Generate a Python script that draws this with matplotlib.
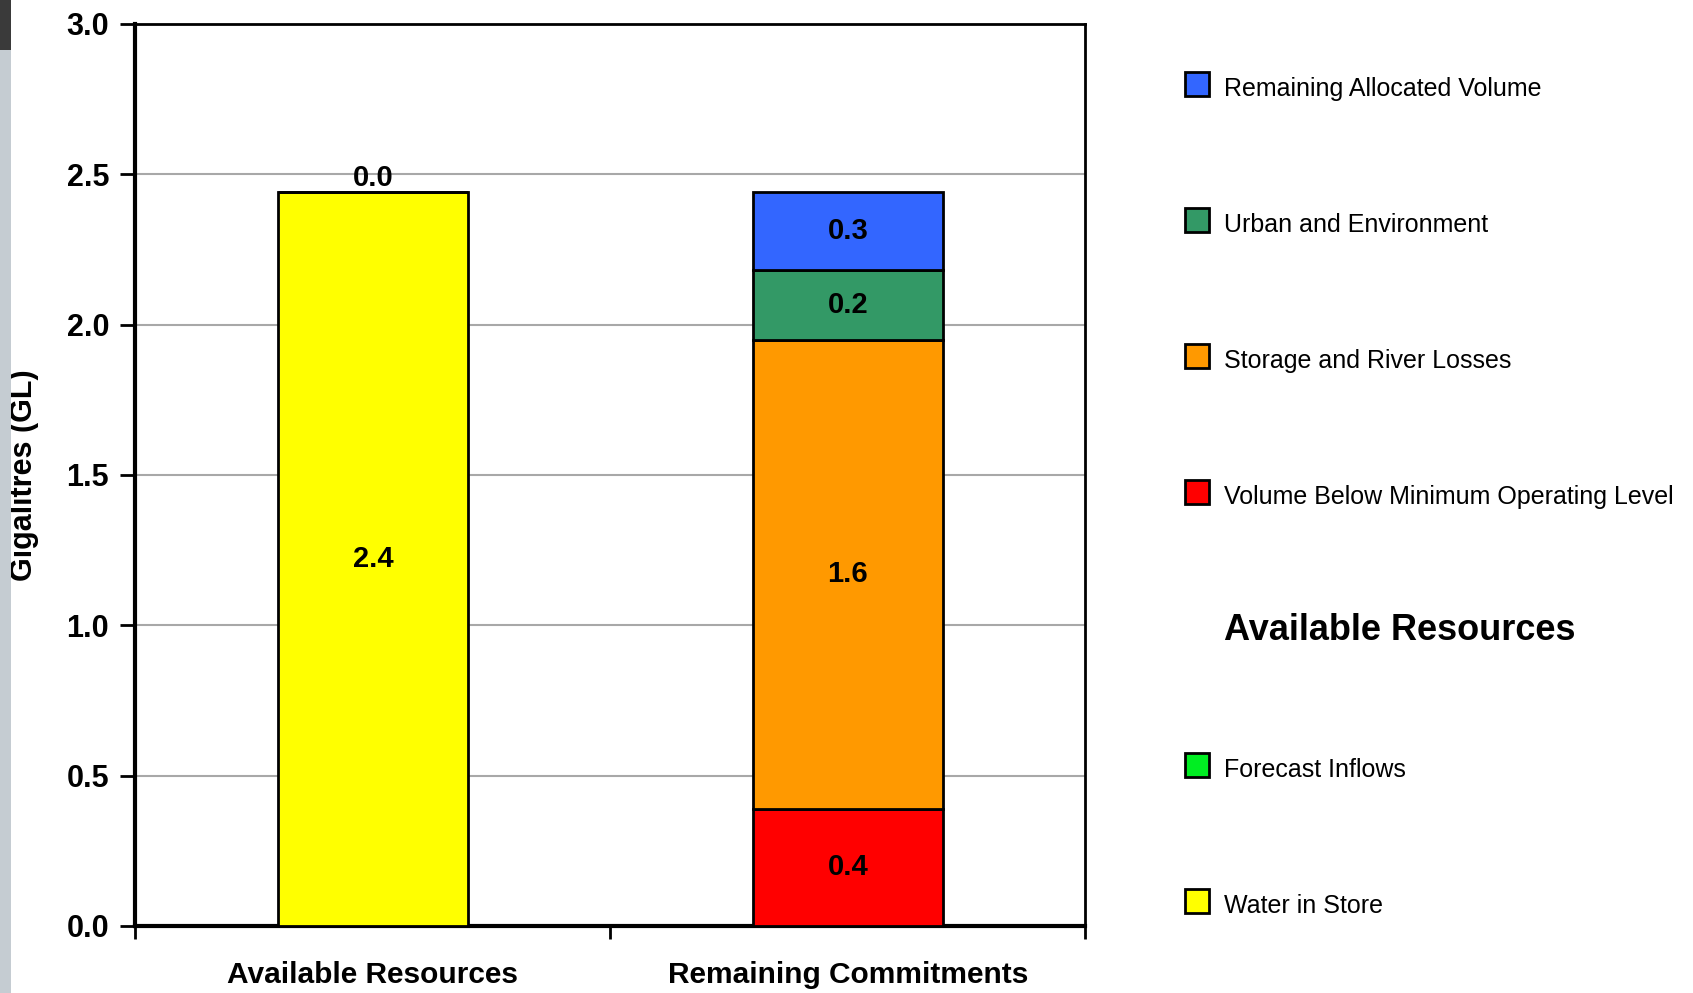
import numpy as np
import matplotlib
matplotlib.use("Agg")
import matplotlib.pyplot as plt
from matplotlib.patches import Rectangle

categories = ["Available Resources", "Remaining Commitments"]

# available resources stack (bottom -> top)
water_in_store = [2.44, 0.0]
forecast_inflows = [0.0, 0.0]

# remaining commitments stack (bottom -> top)
below_mol = [0.0, 0.39]
storage_losses = [0.0, 1.56]
urban_env = [0.0, 0.23]
remaining_alloc = [0.0, 0.26]

yticks = [0.0, 0.5, 1.0, 1.5, 2.0, 2.5, 3.0]

legend_top = ["Remaining Allocated Volume", "Urban and Environment",
              "Storage and River Losses", "Volume Below Minimum Operating Level"]
legend_top_colors = ["#3366FF", "#339966", "#FF9900", "#FF0000"]
legend_bottom = ["Forecast Inflows", "Water in Store"]
legend_bottom_colors = ["#00EE22", "#FFFF00"]

plt.rcParams['font.family'] = ['Liberation Sans', 'DejaVu Sans']

fig = plt.figure(figsize=(16.93, 9.93), dpi=100)
ax = fig.add_axes([0.080, 0.0675, 0.561, 0.9085])

x = np.arange(len(categories))
w = 0.4
ek = dict(edgecolor="black", linewidth=2, zorder=3)

ax.bar(x[0], water_in_store[0], w, color="#FFFF00", **ek)
ax.bar(x[0], forecast_inflows[0], w, bottom=water_in_store[0], color="#00EE22", **ek)
ax.text(x[0], water_in_store[0] / 2, f"{water_in_store[0]:.1f}", ha="center", va="center",
        fontsize=21, fontweight="bold", zorder=4)
ax.text(x[0], water_in_store[0] + forecast_inflows[0], f"{forecast_inflows[0]:.1f}",
        ha="center", va="bottom", fontsize=21, fontweight="bold", zorder=4)

bottom = 0.0
for vals, col in [(below_mol, "#FF0000"), (storage_losses, "#FF9900"),
                  (urban_env, "#339966"), (remaining_alloc, "#3366FF")]:
    v = vals[1]
    ax.bar(x[1], v, w, bottom=bottom, color=col, **ek)
    ax.text(x[1], bottom + v / 2, f"{round(v + 1e-9, 1):.1f}", ha="center", va="center",
            fontsize=21, fontweight="bold", zorder=4)
    bottom += v

ax.set_xlim(-0.5, 1.5)
ax.set_ylim(0, 3.0)
ax.set_yticks(yticks)
ax.set_yticklabels([f"{t:.1f}" for t in yticks], fontsize=22, fontweight="bold")
ax.yaxis.grid(True, color="#a8a8a8", linewidth=1.5, zorder=0)
ax.set_axisbelow(True)

ax.set_xticks([-0.5, 0.5, 1.5])
ax.set_xticklabels([])
ax.set_xticks(x, minor=True)
ax.set_xticklabels(categories, minor=True, fontsize=21.5, fontweight="bold")
ax.tick_params(axis="x", which="major", direction="out", length=9, width=2)
ax.tick_params(axis="x", which="minor", length=0, pad=25)
ax.tick_params(axis="y", direction="out", length=11, width=2, pad=8)

for s in ["left", "bottom"]:
    ax.spines[s].set_linewidth(3)
for s in ["top", "right"]:
    ax.spines[s].set_linewidth(2)

ax.set_ylabel("Gigalitres (GL)", fontsize=22, fontweight="bold", labelpad=20)

# legend drawn by hand
W, H = fig.get_size_inches() * fig.dpi
px, tx = 1185 / W, 1224 / W
pw, ph = 24 / W, 24 / H
ys = [84, 220, 356, 492]
for yy, lab, col in zip(ys, legend_top, legend_top_colors):
    fig.add_artist(Rectangle((px, 1 - yy / H - ph / 2), pw, ph, facecolor=col,
                             edgecolor="black", linewidth=2, transform=fig.transFigure))
    fig.text(tx, 1 - (yy + 5) / H, lab, fontsize=18, va="center", ha="left")
fig.text(tx, 1 - 630 / H, "Available Resources", fontsize=26, fontweight="bold",
         va="center", ha="left")
for yy, lab, col in zip([765, 901], legend_bottom, legend_bottom_colors):
    fig.add_artist(Rectangle((px, 1 - yy / H - ph / 2), pw, ph, facecolor=col,
                             edgecolor="black", linewidth=2, transform=fig.transFigure))
    fig.text(tx, 1 - (yy + 5) / H, lab, fontsize=18, va="center", ha="left")

# grey slide edge on the left
fig.add_artist(Rectangle((0, 0), 11 / W, 1, facecolor="#c5ccd2", edgecolor="none",
                         transform=fig.transFigure))
fig.add_artist(Rectangle((0, 1 - 50 / H), 11 / W, 50 / H, facecolor="#3a3a3a",
                         edgecolor="none", transform=fig.transFigure))

fig.savefig("out.png", dpi=100)
